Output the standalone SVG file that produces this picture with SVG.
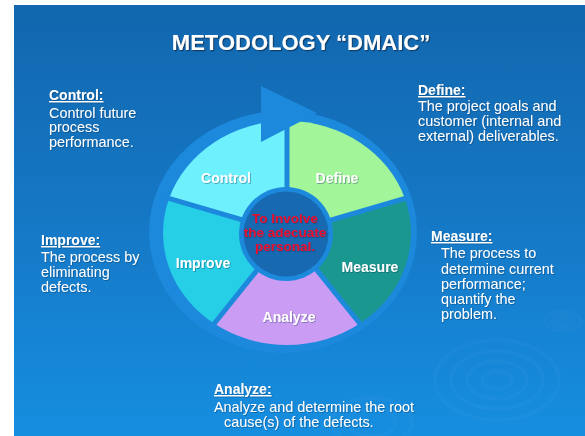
<svg xmlns="http://www.w3.org/2000/svg" width="585" height="436" viewBox="0 0 585 436">
  <defs>
    <linearGradient id="bg" x1="0" y1="0" x2="0" y2="1">
      <stop offset="0" stop-color="#1267AE"/>
      <stop offset="0.45" stop-color="#1576C3"/>
      <stop offset="1" stop-color="#168EE0"/>
    </linearGradient>
    <filter id="shadow" x="-10%" y="-20%" width="120%" height="150%">
      <feDropShadow dx="1.2" dy="1.2" stdDeviation="0.7" flood-color="#0A2E55" flood-opacity="0.8"/>
    </filter>
    <filter id="soft" x="-10%" y="-20%" width="120%" height="150%">
      <feDropShadow dx="0.8" dy="0.8" stdDeviation="0.5" flood-color="#0A2E55" flood-opacity="0.45"/>
    </filter>
    <filter id="blur" x="-20%" y="-20%" width="140%" height="140%">
      <feGaussianBlur stdDeviation="0.8"/>
    </filter>
  </defs>
  <style>
    .head { font-family: "Liberation Sans", Arial, sans-serif; font-size: 14px; font-weight: bold; fill: #FFFFFF; text-decoration: underline; }
    .body { font-family: "Liberation Sans", Arial, sans-serif; font-size: 14.4px; fill: #FFFFFF; }
    .seg { font-family: "Liberation Sans", Arial, sans-serif; font-size: 14px; font-weight: bold; fill: #FFFFFF; text-anchor: middle; }
    .red { font-family: "Liberation Sans", Arial, sans-serif; font-size: 13.5px; font-weight: bold; fill: #E8112D; text-anchor: middle; }
    .ring { fill: #1C89DC; }
    .divider { stroke: #1C89DC; stroke-width: 5; }
    .ripple { fill: none; stroke: #FFFFFF; stroke-opacity: 0.06; stroke-width: 1.5; }
  </style>

  <rect x="0" y="0" width="585" height="436" fill="#FFFFFF"/>
  <rect x="14" y="5" width="571" height="431" fill="url(#bg)"/>

  <g id="ripples" filter="url(#blur)">
    <ellipse class="ripple" cx="563" cy="321" rx="18" ry="10"/>
    <ellipse class="ripple" cx="563" cy="321" rx="11" ry="6"/>
    <ellipse class="ripple" cx="563" cy="321" rx="5" ry="3"/>
    <ellipse class="ripple" cx="497" cy="380" rx="62" ry="40"/>
    <ellipse class="ripple" cx="497" cy="380" rx="46" ry="29"/>
    <ellipse class="ripple" cx="497" cy="380" rx="30" ry="19"/>
    <ellipse class="ripple" cx="497" cy="380" rx="15" ry="9"/>
    <ellipse class="ripple" cx="372" cy="422" rx="40" ry="24"/>
    <ellipse class="ripple" cx="372" cy="422" rx="24" ry="14"/>
  </g>

  <g id="title" filter="url(#shadow)">
    <text x="301" y="49.5" font-family="'Liberation Sans', Arial, sans-serif" font-size="22" font-weight="bold" fill="#FFFFFF" text-anchor="middle">METODOLOGY “DMAIC”</text>
  </g>

  <g id="connectors">
    <g id="cycle-ring">
      <ellipse class="ring" cx="283" cy="232" rx="134" ry="121"/>
    </g>
  </g>

  <g id="seg-define">
    <path d="M287,233 L287,121 A124,112 0 0 1 404.9,198.4 Z" fill="#A2F598"/>
  </g>
  <g id="seg-measure">
    <path d="M287,233 L404.9,198.4 A124,112 0 0 1 359.9,323.6 Z" fill="#1A9890"/>
  </g>
  <g id="seg-analyze">
    <path d="M287,233 L359.9,323.6 A124,112 0 0 1 214.1,323.6 Z" fill="#CB9CF3"/>
  </g>
  <g id="seg-improve">
    <path d="M287,233 L214.1,323.6 A124,112 0 0 1 169.1,198.4 Z" fill="#26CFE6"/>
  </g>
  <g id="seg-control">
    <path d="M287,233 L169.1,198.4 A124,112 0 0 1 287,121 Z" fill="#6EF1FD"/>
  </g>

  <g id="dividers">
    <line class="divider" x1="287" y1="233" x2="287" y2="114.3"/>
    <line class="divider" x1="287" y1="233" x2="408.4" y2="197.4"/>
    <line class="divider" x1="287" y1="233" x2="362.8" y2="327.2"/>
    <line class="divider" x1="287" y1="233" x2="211.3" y2="327.2"/>
    <line class="divider" x1="287" y1="233" x2="162" y2="196.3"/>
  </g>

  <g id="cycle-arrowhead">
    <polygon class="ring" points="261,86 317,113 261,142"/>
  </g>

  <g id="center">
    <circle cx="286" cy="234" r="47" fill="#1C89DC"/>
    <circle cx="286" cy="234" r="42.5" fill="#1769B1"/>
    <g filter="url(#soft)">
      <text class="red" x="285" y="223">To Involve</text>
      <text class="red" x="285" y="237">the adecuate</text>
      <text class="red" x="285" y="251">personal.</text>
    </g>
  </g>

  <g id="segment-labels" filter="url(#soft)">
    <text class="seg" x="226" y="183">Control</text>
    <text class="seg" x="337" y="183">Define</text>
    <text class="seg" x="370" y="272">Measure</text>
    <text class="seg" x="289" y="322">Analyze</text>
    <text class="seg" x="203" y="268">Improve</text>
  </g>

  <g id="note-control" filter="url(#soft)">
    <text class="head" x="49" y="100">Control:</text>
    <text class="body" x="49" y="117.5">Control future</text>
    <text class="body" x="49" y="132">process</text>
    <text class="body" x="49" y="146.5">performance.</text>
  </g>

  <g id="note-define" filter="url(#soft)">
    <text class="head" x="418" y="95">Define:</text>
    <text class="body" x="418" y="111">The project goals and</text>
    <text class="body" x="418" y="126">customer (internal and</text>
    <text class="body" x="418" y="141">external) deliverables.</text>
  </g>

  <g id="note-measure" filter="url(#soft)">
    <text class="head" x="431" y="241">Measure:</text>
    <text class="body" x="441" y="258">The process to</text>
    <text class="body" x="441" y="274">determine current</text>
    <text class="body" x="441" y="289">performance;</text>
    <text class="body" x="441" y="304">quantify the</text>
    <text class="body" x="441" y="319">problem.</text>
  </g>

  <g id="note-improve" filter="url(#soft)">
    <text class="head" x="41" y="245">Improve:</text>
    <text class="body" x="41" y="262">The process by</text>
    <text class="body" x="41" y="277">eliminating</text>
    <text class="body" x="41" y="292">defects.</text>
  </g>

  <g id="note-analyze" filter="url(#soft)">
    <text class="head" x="214" y="394">Analyze:</text>
    <text class="body" x="214" y="412">Analyze and determine the root</text>
    <text class="body" x="224" y="427">cause(s) of the defects.</text>
  </g>
</svg>
